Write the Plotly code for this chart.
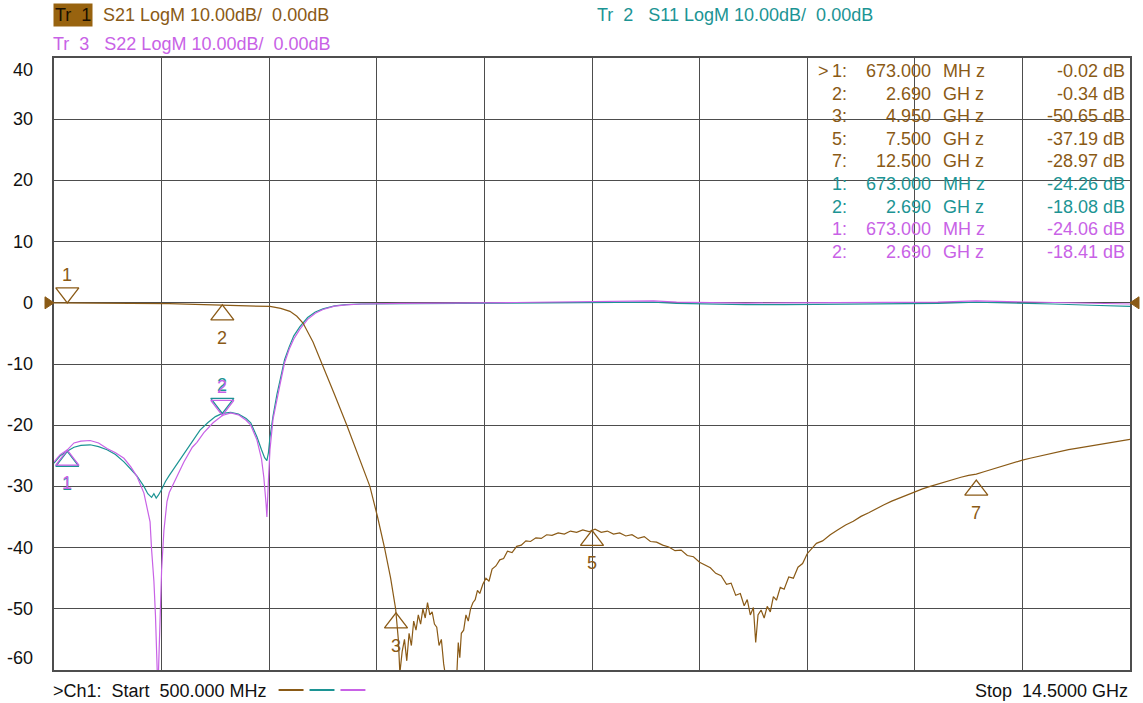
import plotly.graph_objects as go

# ---------------- data ----------------
freq_start_ghz = 0.5
freq_stop_ghz = 14.5
n_div = 10
y_top, y_bottom = 40, -60
y_tick_vals = [40, 30, 20, 10, 0, -10, -20, -30, -40, -50, -60]
y_tick_text = ["40", "30", "20", "10", "0", "-10", "-20", "-30", "-40", "-50", "-60"]

s21_f = [0.50, 0.67, 1.00, 1.50, 2.00, 2.50, 2.69, 3.00, 3.15, 3.31, 3.45, 3.57, 3.66, 3.74, 3.87, 3.99,
         4.15, 4.31, 4.46, 4.61, 4.71, 4.80, 4.88, 4.945, 4.98, 5.00,
         5.03, 5.06, 5.09, 5.12, 5.15, 5.18, 5.21, 5.24, 5.27, 5.30, 5.33, 5.36, 5.39, 5.42, 5.45, 5.48,
         5.51, 5.54, 5.57, 5.60, 5.65, 5.70, 5.74, 5.76, 5.78, 5.80, 5.83, 5.86, 5.89, 5.92, 5.95, 5.98,
         6.01, 6.04, 6.08, 6.12, 6.16, 6.20, 6.25, 6.30, 6.35, 6.40, 6.46, 6.52, 6.58, 6.64, 6.70, 6.77,
         6.84, 6.91, 6.98, 7.06, 7.14, 7.22, 7.30, 7.38, 7.46, 7.50, 7.54, 7.62, 7.70, 7.78, 7.86, 7.94,
         8.02, 8.10, 8.18, 8.26, 8.34, 8.42, 8.50, 8.58, 8.66, 8.74, 8.82, 8.90, 8.97, 9.04, 9.11, 9.18,
         9.25, 9.31, 9.37, 9.43, 9.48, 9.52, 9.56, 9.60, 9.63, 9.66, 9.70, 9.74, 9.78, 9.82, 9.86, 9.90,
         9.95, 10.00, 10.06, 10.12, 10.18, 10.24, 10.30, 10.36, 10.42, 10.50, 10.60, 10.70, 10.80, 10.90,
         11.00, 11.10, 11.20, 11.30, 11.40, 11.50, 11.60, 11.70, 11.80, 11.90, 12.00, 12.10, 12.20, 12.30,
         12.40, 12.50, 12.60, 12.70, 12.80, 12.90, 13.00, 13.10, 13.20, 13.30, 13.40, 13.50, 13.60, 13.70,
         13.80, 13.90, 14.00, 14.10, 14.20, 14.30, 14.40, 14.50]
s21_db = [-0.02, -0.02, -0.05, -0.08, -0.15, -0.28, -0.34, -0.40, -0.45, -0.6, -0.9, -1.4, -2.2, -3.3, -6.4, -10.0,
          -15.0, -20.0, -25.0, -30.0, -35.0, -40.0, -45.0, -50.0, -55.0, -60.5,
          -57.0, -55.0, -58.5, -54.0, -56.0, -52.0, -53.5, -51.0, -52.5, -50.0, -51.5, -49.0, -51.0, -50.5, -52.5, -53.0,
          -56.0, -55.0, -59.0, -61.5, -63.0, -63.0, -61.0, -55.5, -58.0, -54.0, -53.5, -51.0, -52.0, -50.0, -49.0, -48.5,
          -47.0, -47.5, -46.0, -45.0, -45.5, -43.5, -43.0, -42.0, -41.8, -40.6, -40.8, -39.8, -39.6, -38.9, -39.0, -38.4,
          -38.5, -37.9, -38.0, -37.6, -37.8, -37.3, -37.5, -37.1, -37.4, -37.2, -37.0, -37.5, -37.3, -37.8, -37.6, -38.1,
          -37.9, -38.5, -38.2, -39.0, -39.1, -39.6, -39.9, -40.5, -40.4, -41.3, -41.5, -42.4, -42.8, -43.3, -44.2, -44.6,
          -46.0, -45.8, -47.8, -47.5, -49.5, -48.5, -51.0, -49.8, -55.5, -51.0, -50.2, -51.5, -49.6, -50.5, -48.0, -48.6,
          -46.5, -46.8, -44.8, -45.0, -43.2, -42.6, -41.0, -40.2, -39.3, -38.9, -37.9, -37.1, -36.3, -35.7,
          -34.9, -34.3, -33.6, -33.0, -32.4, -31.9, -31.3, -30.9, -30.4, -30.0, -29.6, -29.2, -28.8, -28.5,
          -28.2, -28.0, -27.6, -27.2, -26.9, -26.5, -26.1, -25.7, -25.4, -25.1, -24.8, -24.6, -24.3, -24.0,
          -23.8, -23.6, -23.4, -23.1, -22.9, -22.7, -22.5, -22.3]

s11_f = [0.50, 0.58, 0.67, 0.76, 0.85, 0.97, 1.08, 1.19, 1.30, 1.41, 1.50, 1.58, 1.67, 1.72, 1.77, 1.80,
         1.83, 1.86, 1.90, 1.95, 2.00, 2.06, 2.19, 2.30, 2.40, 2.50, 2.60, 2.69, 2.80, 2.90, 3.00, 3.06,
         3.14, 3.20, 3.24, 3.27, 3.29, 3.31, 3.35, 3.40, 3.44, 3.50, 3.56, 3.62, 3.70, 3.80, 3.90, 4.00,
         4.15, 4.30, 4.50, 5.00, 5.50, 6.00, 6.50, 7.00, 7.50, 8.00, 8.30, 8.60, 9.00, 9.50, 10.00, 10.50,
         11.00, 11.50, 12.00, 12.50, 13.00, 13.50, 14.00, 14.50]
s11_db = [-26.2, -25.0, -24.26, -23.6, -23.3, -23.2, -23.5, -24.0, -24.8, -26.0, -27.2, -28.3, -30.0, -31.2, -31.8, -31.2,
          -31.9, -31.4, -30.5, -29.2, -28.2, -27.1, -24.8, -22.6, -20.8, -19.6, -18.6, -18.08, -17.9, -18.2, -18.9, -19.6,
          -21.9, -24.0, -25.3, -25.8, -24.5, -22.0, -18.5, -15.0, -12.8, -9.3, -7.2, -5.4, -3.9, -2.4, -1.5, -1.0,
          -0.5, -0.3, -0.2, -0.15, -0.1, -0.05, -0.1, 0.0, 0.05, 0.15, 0.1, -0.1, -0.2, -0.3, -0.3, -0.25,
          -0.3, -0.2, -0.1, 0.1, 0.0, -0.2, -0.4, -0.6]

s22_f = [0.50, 0.58, 0.67, 0.76, 0.85, 0.97, 1.08, 1.19, 1.30, 1.41, 1.50, 1.58, 1.67, 1.71, 1.75, 1.77,
         1.80, 1.82, 1.84, 1.85, 1.86, 1.88, 1.90, 1.93, 1.97, 2.00, 2.06, 2.19, 2.30, 2.36, 2.45, 2.57,
         2.69, 2.80, 2.90, 3.00, 3.06, 3.14, 3.20, 3.23, 3.26, 3.27, 3.29, 3.31, 3.35, 3.40, 3.44, 3.50,
         3.56, 3.62, 3.70, 3.80, 3.90, 4.00, 4.15, 4.30, 4.50, 5.00, 5.50, 6.00, 6.50, 7.00, 7.50, 8.00,
         8.30, 8.60, 9.00, 9.50, 10.00, 10.50, 11.00, 11.50, 12.00, 12.50, 13.00, 13.50, 14.00, 14.50]
s22_db = [-26.0, -24.8, -24.06, -22.9, -22.6, -22.5, -22.9, -23.8, -24.5, -25.4, -26.8, -28.4, -31.1, -33.5, -35.8, -40.4,
          -45.5, -51.0, -58.0, -63.0, -60.0, -51.0, -43.7, -37.2, -32.5, -31.0, -29.5, -26.0, -23.6, -22.8, -21.2, -19.6,
          -18.41, -18.0, -18.3, -19.2, -20.0, -22.4, -25.5, -28.5, -33.0, -35.0, -29.0, -24.0, -19.0, -15.5, -13.4, -9.8,
          -7.6, -5.9, -4.3, -2.7, -1.7, -1.1, -0.55, -0.35, -0.2, -0.1, 0.0, 0.0, 0.05, 0.15, 0.25, 0.35,
          0.3, 0.1, 0.0, -0.05, 0.0, 0.05, 0.0, 0.1, 0.1, 0.3, 0.2, 0.0, -0.1, -0.2]

# markers: name, freq (GHz), value (dB), triangle direction
s21_mk_name = ["1", "2", "3", "5", "7"]
s21_mk_f = [0.673, 2.69, 4.95, 7.5, 12.5]
s21_mk_db = [-0.02, -0.34, -50.65, -37.19, -28.97]
s21_mk_dir = ["down", "up", "up", "up", "up"]

s11_mk_name = ["1", "2"]
s11_mk_f = [0.673, 2.69]
s11_mk_db = [-24.26, -18.08]
s11_mk_dir = ["up", "down"]

s22_mk_name = ["1", "2"]
s22_mk_f = [0.673, 2.69]
s22_mk_db = [-24.06, -18.41]
s22_mk_dir = ["up", "down"]

# marker table rows: prefix, number, frequency, unit, value, trace
table_prefix = [">", "", "", "", "", "", "", "", ""]
table_num = ["1:", "2:", "3:", "5:", "7:", "1:", "2:", "1:", "2:"]
table_freq = ["673.000", "2.690", "4.950", "7.500", "12.500", "673.000", "2.690", "673.000", "2.690"]
table_unit = ["MH z", "GH z", "GH z", "GH z", "GH z", "MH z", "GH z", "MH z", "GH z"]
table_val = ["-0.02 dB", "-0.34 dB", "-50.65 dB", "-37.19 dB", "-28.97 dB",
             "-24.26 dB", "-18.08 dB", "-24.06 dB", "-18.41 dB"]
table_trace = ["S21", "S21", "S21", "S21", "S21", "S11", "S11", "S22", "S22"]

# ---------------- styling / geometry ----------------
BROWN = "#8A5A16"
BROWN_BOX = "#98630F"
TEAL = "#1C9494"
VIOLET = "#C862E6"
GRID = "#4d4d4d"
COLORS = {"S21": BROWN, "S11": TEAL, "S22": VIOLET}
FONT = "Liberation Sans, Arial, sans-serif"
FS = 18

W, H = 1143, 703
PLOT_X0, PLOT_X1, PLOT_Y0, PLOT_Y1 = 54, 1132, 58, 670   # plot area, page pixels
L, R, T, B = PLOT_X0, W - PLOT_X1, PLOT_Y0, H - PLOT_Y1
PW, PH = W - L - R, H - T - B
PX_PER_DB = PH / (y_top - y_bottom)


def px(xpage):
    return (xpage - L) / PW


def py(ypage):
    return (H - B - ypage) / PH


fig = go.Figure()

fig.add_trace(go.Scatter(x=s11_f, y=s11_db, mode="lines", line=dict(color=TEAL, width=1.2), hoverinfo="skip"))
fig.add_trace(go.Scatter(x=s22_f, y=s22_db, mode="lines", line=dict(color=VIOLET, width=1.2), hoverinfo="skip"))
fig.add_trace(go.Scatter(x=s21_f, y=s21_db, mode="lines", line=dict(color=BROWN, width=1.2), hoverinfo="skip"))

MK_SIZE = 20
r_px = MK_SIZE / 2
annotations = []


def add_markers(names, fs, dbs, dirs, color):
    xs, ys, syms = [], [], []
    for n, f, d, dr in zip(names, fs, dbs, dirs):
        if dr == "up":
            ys.append(d - r_px / PX_PER_DB)
            syms.append("triangle-up-open")
            shift = -33
        else:
            ys.append(d + r_px / PX_PER_DB)
            syms.append("triangle-down-open")
            shift = 28
        xs.append(f)
        annotations.append(dict(x=f, y=d, xref="x", yref="y", text=n, showarrow=False,
                                yshift=shift, yanchor="middle",
                                font=dict(color=color, size=FS, family=FONT)))
    fig.add_trace(go.Scatter(x=xs, y=ys, mode="markers", cliponaxis=False, hoverinfo="skip",
                             marker=dict(symbol=syms, size=MK_SIZE, color=color,
                                         line=dict(color=color, width=1.3))))


add_markers(s11_mk_name, s11_mk_f, s11_mk_db, s11_mk_dir, TEAL)
add_markers(s22_mk_name, s22_mk_f, s22_mk_db, s22_mk_dir, VIOLET)
add_markers(s21_mk_name, s21_mk_f, s21_mk_db, s21_mk_dir, BROWN)

# y tick labels (end labels pulled inward, as on the analyzer)
for v, t in zip(y_tick_vals, y_tick_text):
    ys = 0
    if v == y_top:
        ys = -12
    elif v == y_bottom:
        ys = 12
    annotations.append(dict(x=0, y=v, xref="paper", yref="y", text=t, showarrow=False,
                            xanchor="right", yanchor="middle", xshift=-19, yshift=ys,
                            font=dict(color="#111111", size=FS, family=FONT)))


def page_text(x, y, text, color, anchor="left", **kw):
    annotations.append(dict(x=px(x), y=py(y), xref="paper", yref="paper", text=text,
                            showarrow=False, xanchor=anchor, yanchor="middle",
                            font=dict(color=color, size=FS, family=FONT), **kw))


# header
page_text(53, 15, "Tr  1", "#1a1000", bgcolor=BROWN_BOX, borderpad=1)
page_text(101, 15, "S21 LogM 10.00dB/  0.00dB", BROWN)
page_text(596, 15, "Tr  2   S11 LogM 10.00dB/  0.00dB", TEAL)
page_text(51, 44, "Tr  3   S22 LogM 10.00dB/  0.00dB", VIOLET)

# marker table
row_y0, row_dy = 71, 22.6
for i in range(len(table_num)):
    yy = row_y0 + i * row_dy
    c = COLORS[table_trace[i]]
    if table_prefix[i]:
        page_text(817, yy, "&gt;", c)
    page_text(850, yy, table_num[i], c, anchor="right")
    page_text(935, yy, table_freq[i], c, anchor="right")
    page_text(943, yy, table_unit[i], c)
    page_text(1129, yy, table_val[i], c, anchor="right")

# footer
page_text(51, 691, "&gt;Ch1:  Start  500.000 MHz", "#111111")
page_text(1132, 691, "Stop  14.5000 GHz", "#111111", anchor="right")

shapes = []
for (x0, x1), c in zip([(279, 304), (310, 335), (341, 366)], [BROWN, TEAL, VIOLET]):
    shapes.append(dict(type="line", xref="paper", yref="paper", x0=px(x0), x1=px(x1),
                       y0=py(690), y1=py(690), line=dict(color=c, width=2)))

# reference-level arrows at 0 dB on both edges
shapes.append(dict(type="path", xref="paper", yref="y", xsizemode="pixel", ysizemode="pixel",
                   xanchor=0, yanchor=0, path="M -9,-6 L 0,0 L -9,6 Z",
                   fillcolor=BROWN, line=dict(color=BROWN, width=1)))
shapes.append(dict(type="path", xref="paper", yref="y", xsizemode="pixel", ysizemode="pixel",
                   xanchor=1, yanchor=0, path="M 9,-6 L 0,0 L 9,6 Z",
                   fillcolor=BROWN, line=dict(color=BROWN, width=1)))

x_grid = [freq_start_ghz + i * (freq_stop_ghz - freq_start_ghz) / n_div for i in range(n_div + 1)]

fig.update_layout(
    width=W, height=H,
    margin=dict(l=L, r=R, t=T, b=B, pad=0),
    paper_bgcolor="white", plot_bgcolor="white",
    showlegend=False,
    font=dict(family=FONT, size=FS),
    annotations=annotations,
    shapes=shapes,
    xaxis=dict(range=[freq_start_ghz, freq_stop_ghz], tickvals=x_grid, showticklabels=False,
               ticks="", showgrid=True, gridcolor=GRID, gridwidth=1.3, zeroline=False,
               showline=True, linecolor=GRID, linewidth=1.5, mirror=True, fixedrange=True),
    yaxis=dict(range=[y_bottom, y_top], tickvals=y_tick_vals, showticklabels=False,
               ticks="", showgrid=True, gridcolor=GRID, gridwidth=1.3, zeroline=False,
               showline=True, linecolor=GRID, linewidth=1.5, mirror=True, fixedrange=True),
)

fig.write_html("out.html", config={"displayModeBar": False},
               post_script="document.body.style.margin='0px';document.body.style.overflow='hidden';")
